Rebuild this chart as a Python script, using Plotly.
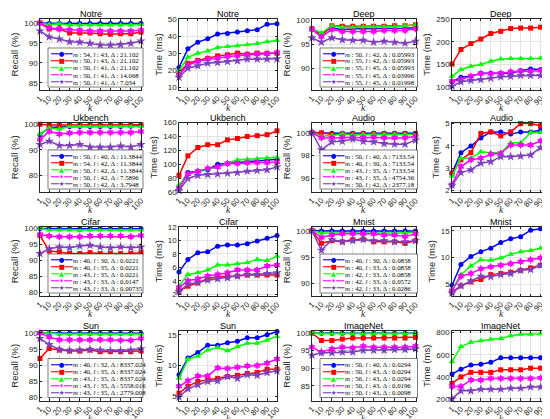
import plotly.graph_objects as go

W, H = 550, 419

k = [1, 10, 20, 30, 40, 50, 60, 70, 80, 90, 100]
k_text = [str(v) for v in k]

# each list of lists: blue, red, green, magenta, purple
notre_recall = [
    [100, 99.9, 99.9, 99.9, 99.9, 99.9, 99.9, 99.9, 99.9, 99.9, 99.9],
    [100, 98.5, 98.5, 97.5, 97.5, 97.5, 97.3, 97.2, 97.3, 97.3, 97.7],
    [100, 99.6, 99.8, 99.5, 99.5, 99.5, 99.5, 99.5, 99.5, 99.5, 99.6],
    [100, 98.8, 98.5, 98.3, 98.2, 98.0, 98.0, 98.0, 98.0, 98.0, 98.2],
    [98, 96.5, 96, 95.3, 95.2, 94.9, 94.5, 94.5, 94.6, 94.9, 95.5],
]
notre_time = [
    [21.7, 32.6, 36.5, 38.5, 41.2, 41.6, 42.4, 43.2, 43.8, 47, 47.3],
    [18.4, 24.2, 25.8, 27.1, 28.5, 29.1, 30.1, 29.5, 30.1, 30, 30],
    [19.7, 27.7, 30, 31.4, 33.4, 34, 34.4, 35, 35.7, 36.7, 37.5],
    [17.4, 23.2, 25.2, 26.6, 27.1, 28.1, 28.5, 29.1, 29.5, 29.7, 30.5],
    [16, 21.3, 22.7, 24.2, 24.6, 25.2, 25.6, 26.6, 26.6, 26.6, 26.8],
]
notre_m = [54, 50, 50, 50, 50]
notre_l = [43, 43, 41, 41, 41]
notre_d = ["21.102", "21.102", "21.102", "14.068", "7.034"]

deep_recall = [
    [98.2, 97.1, 98.4, 98, 98.2, 98.2, 98.2, 98.3, 98.3, 98.3, 98.4],
    [98.2, 96.8, 98.8, 98.7, 98.7, 98.7, 98.7, 98.7, 98.8, 98.8, 99],
    [98.2, 97.3, 98.8, 98.5, 98.5, 98.6, 98.6, 98.6, 98.6, 98.8, 98.9],
    [98, 96.5, 98, 97.6, 97.6, 97.6, 97.6, 97.8, 97.8, 97.8, 98.2],
    [96.3, 95.4, 96.3, 95.9, 95.8, 95.8, 95.4, 95.6, 95.4, 95.2, 95.6],
]
deep_time = [
    [112, 122, 124, 131, 131, 131, 131, 137, 140, 139, 140],
    [151, 183, 196, 206, 218, 223, 229, 230, 230, 232, 234],
    [124, 139, 146, 150, 157, 162, 163, 163, 163, 164, 168],
    [113, 117, 124, 130, 130, 131, 134, 135, 135, 137, 137],
    [102, 112, 115, 117, 120, 123, 124, 126, 126, 126, 128],
]
deep_m = [50, 55, 55, 55, 55]
deep_l = [42, 42, 45, 45, 45]
deep_d = ["0.05993", "0.05993", "0.05993", "0.03996", "0.01998"]

ukbench_recall = [
    [95.9, 98.7, 98.9, 99.1, 99.1, 99.1, 99.1, 99.1, 99.1, 99.2, 99.4],
    [100, 99.7, 99.7, 99.7, 99.7, 99.7, 99.7, 99.7, 99.7, 99.7, 99.8],
    [96.2, 98.5, 98.2, 99.1, 99.1, 99.1, 99.1, 99.1, 99.1, 99.1, 99.1],
    [94, 97.2, 96.2, 96.6, 96.8, 96.8, 96.8, 96.8, 96.8, 96.8, 97.2],
    [92.1, 93.4, 91.7, 91.7, 92.1, 91.1, 91.1, 91.1, 91.5, 91.1, 92.1],
]
ukbench_time = [
    [67, 88, 90, 92, 100, 101, 103, 104, 105, 106, 107],
    [84, 112, 124, 128, 128, 135, 137, 140, 141, 142.5, 148],
    [70, 85, 90, 93, 96, 102, 106, 107, 108, 109, 110],
    [65, 86, 90, 94, 96, 101, 101, 102, 102.5, 102.5, 103],
    [62, 79.5, 84, 85, 86, 87, 88, 90, 91, 92, 96],
]
ukbench_m = [50, 54, 50, 50, 50]
ukbench_l = [40, 42, 42, 42, 42]
ukbench_d = ["11.3844", "11.3844", "11.3844", "7.5896", "3.7948"]

audio_recall = [
    [100, 99.95, 99.95, 99.95, 99.95, 99.95, 99.95, 99.95, 99.95, 99.95, 99.95],
    [100, 100, 99.85, 99.9, 99.9, 99.9, 99.9, 99.9, 99.9, 99.9, 99.9],
    [100, 99.7, 99.75, 99.9, 99.8, 99.85, 99.85, 99.85, 99.85, 99.85, 99.85],
    [100, 99.55, 99.55, 99.6, 99.6, 99.55, 99.6, 99.55, 99.55, 99.55, 99.7],
    [100, 98.5, 99.2, 99.25, 99.45, 99.25, 99.2, 99.05, 99.0, 99.0, 99.35],
]
audio_time = [
    [2.78, 3.7, 4.0, 4.36, 4.63, 4.63, 4.53, 4.63, 4.63, 4.7, 5.04],
    [2.78, 3.38, 3.7, 4.56, 4.63, 4.45, 4.63, 5.0, 5.0, 4.9, 4.97],
    [2.64, 3.45, 3.45, 3.74, 3.7, 3.7, 4.14, 4.14, 4.6, 4.6, 4.6],
    [2.27, 3.08, 3.38, 3.45, 3.63, 3.67, 4.04, 4.04, 4.04, 4.22, 4.26],
    [2.24, 2.81, 2.93, 3.23, 3.3, 3.52, 3.52, 3.55, 3.6, 3.92, 4.11],
]
audio_m = [50, 40, 43, 43, 50]
audio_l = [40, 30, 35, 35, 42]
audio_d = ["7133.54", "7133.54", "7133.54", "4754.36", "2377.18"]

cifar_recall = [
    [100, 99.9, 99.9, 99.9, 99.9, 99.9, 99.9, 99.9, 99.9, 99.9, 99.9],
    [97.8, 92.9, 92.6, 92.1, 92.1, 92.4, 92.1, 92.1, 92.1, 92.1, 92.4],
    [100, 99.5, 99.5, 99.5, 99.3, 99.5, 99.5, 99.5, 99.5, 99.5, 99.5],
    [98.1, 97.6, 97.4, 97.4, 97.4, 97.6, 97.6, 97.6, 97.6, 97.4, 97.8],
    [92.1, 93.6, 94.2, 93.9, 94.5, 94.7, 94.2, 93.9, 94.2, 93.9, 94.2],
]
cifar_time = [
    [5.3, 7.17, 8.16, 8.3, 9.14, 9.3, 9.3, 9.5, 9.9, 10.3, 10.7],
    [2.5, 3.2, 3.7, 4.3, 4.6, 4.6, 4.7, 4.86, 4.86, 4.86, 4.86],
    [3.2, 4.95, 5.2, 5.6, 6.33, 6.33, 6.53, 6.7, 7.17, 7.0, 7.66],
    [3.0, 4.0, 4.3, 4.7, 4.95, 5.2, 5.6, 5.6, 5.6, 6.2, 6.33],
    [2.4, 3.5, 3.7, 4.1, 4.3, 4.45, 4.7, 4.95, 4.95, 5.1, 5.2],
]
cifar_m = [40, 40, 43, 43, 43]
cifar_l = [30, 35, 35, 33, 33]
cifar_d = ["0.0221", "0.0221", "0.0221", "0.0147", "0.00735"]

mnist_recall = [
    [100, 99.95, 99.95, 99.95, 99.95, 99.95, 99.95, 99.95, 99.95, 99.95, 99.95],
    [100, 97.6, 98.1, 97.9, 98.3, 98.4, 97.9, 97.9, 97.9, 97.6, 98.1],
    [100, 99.55, 99.55, 99.55, 99.55, 99.55, 99.55, 99.55, 99.55, 99.55, 99.7],
    [100, 98.7, 99.2, 99.4, 99.4, 99.4, 99.4, 99.2, 99.2, 98.9, 99.4],
    [100, 96.3, 98.3, 97.9, 98.1, 98.3, 98.1, 98.1, 97.9, 97.9, 98.1],
]
mnist_time = [
    [4.8, 8.7, 10.2, 11.1, 11.75, 12.8, 13.5, 13.9, 15.1, 15.4, 15.7],
    [3.5, 4.7, 5.45, 5.9, 6.8, 7.0, 7.25, 7.6, 8.05, 8.55, 9.0],
    [4.0, 6.8, 8.4, 9.6, 9.5, 9.9, 10.6, 11.1, 11.3, 11.75, 12.2],
    [3.8, 6.5, 7.0, 7.9, 8.25, 8.55, 8.85, 9.2, 9.6, 9.9, 10.3],
    [3.35, 4.7, 5.6, 6.5, 6.4, 6.8, 7.0, 7.6, 7.75, 8.55, 9.3],
]
mnist_m = [40, 40, 42, 42, 42]
mnist_l = [30, 33, 33, 33, 33]
mnist_d = ["0.0858", "0.0858", "0.0858", "0.0572", "0.0286"]

sun_recall = [
    [100, 99.9, 99.9, 99.9, 99.9, 99.9, 99.9, 99.9, 99.9, 99.9, 99.9],
    [92.1, 95.2, 94.7, 94.4, 94.4, 94.7, 94.2, 94.2, 94.2, 94.2, 94.4],
    [100, 100, 99.7, 99.7, 99.7, 99.7, 99.7, 99.7, 99.7, 99.7, 99.7],
    [100, 98.7, 97.9, 97.9, 97.9, 97.9, 97.9, 97.9, 97.7, 97.7, 98.3],
    [98.3, 96.4, 94.9, 94.6, 94.7, 94.9, 94.7, 94.6, 94.6, 94.7, 95.1],
]
sun_time = [
    [8.5, 11.2, 12.1, 13.3, 13.3, 13.7, 13.95, 14.5, 14.5, 15.0, 15.5],
    [5.5, 6.6, 7.4, 7.6, 7.9, 8.2, 8.4, 8.7, 8.85, 9.4, 9.4],
    [7.9, 11.0, 11.5, 12.5, 12.9, 12.4, 13.05, 13.6, 13.6, 14.1, 14.7],
    [6.6, 7.5, 8.3, 8.3, 9.6, 9.5, 9.7, 9.9, 10.0, 10.4, 11.05],
    [4.85, 6.2, 6.85, 7.4, 7.5, 8.2, 7.9, 8.5, 8.4, 8.85, 9.1],
]
sun_m = [40, 40, 43, 43, 43]
sun_l = [32, 35, 35, 35, 35]
sun_d = ["8337.024", "8337.024", "8337.024", "5558.016", "2779.008"]

imagenet_recall = [
    [100, 99.95, 99.95, 99.95, 99.95, 99.95, 99.95, 99.95, 99.95, 99.95, 99.95],
    [100, 97.9, 97.9, 98.3, 98.6, 98.6, 98.6, 98.6, 98.6, 98.6, 98.8],
    [100, 99.9, 99.9, 99.9, 99.9, 99.9, 99.9, 99.9, 99.9, 99.9, 99.9],
    [96, 94.6, 95.5, 96, 95.8, 96.25, 96, 96, 96, 96, 96.25],
    [93.7, 94.4, 94.4, 94.6, 94.6, 95.1, 95.1, 95.1, 95.3, 95.3, 95.5],
]
imagenet_time = [
    [425, 469, 507, 513, 531, 572, 572, 572, 572, 572, 601],
    [340, 399, 440, 440, 440, 463, 463, 463, 478, 478, 478],
    [537, 674, 712, 727, 741, 747, 771, 785, 785, 791, 800],
    [311, 311, 370, 370, 384, 384, 384, 384, 384, 390, 396],
    [200, 273, 273, 288, 288, 288, 297, 297, 308, 308, 308],
]
imagenet_m = [50, 50, 56, 50, 50]
imagenet_l = [40, 43, 43, 43, 43]
imagenet_d = ["0.0294", "0.0294", "0.0294", "0.0196", "0.0098"]

colors = ["#0000ff", "#ff0000", "#00ff00", "#ff00ff", "#7f3fbf"]
symbols = ["circle", "square", "triangle-up", "hexagram", "star"]
msizes = [5, 5, 6, 6, 7]
glyphs = ["\u25CF", "\u25A0", "\u25B2", "\u2736", "\u2605"]

# name, recall, time, m, l, delta, recall range/ticks, time range/ticks
panels = [
    ("Notre", notre_recall, notre_time, notre_m, notre_l, notre_d,
     [83.2, 101], [85, 90, 95, 100], [8.6, 50], [10, 20, 30, 40, 50]),
    ("Deep", deep_recall, deep_time, deep_m, deep_l, deep_d,
     [85.5, 100.2], [90, 95, 100], [94, 250], [100, 150, 200, 250]),
    ("Ukbench", ukbench_recall, ukbench_time, ukbench_m, ukbench_l, ukbench_d,
     [73.5, 100.7], [80, 90, 100], [60, 160], [60, 80, 100, 120, 140, 160]),
    ("Audio", audio_recall, audio_time, audio_m, audio_l, audio_d,
     [94.8, 100.9], [96, 98, 100], [1.94, 5.05], [2, 3, 4, 5]),
    ("Cifar", cifar_recall, cifar_time, cifar_m, cifar_l, cifar_d,
     [78.8, 100.6], [80, 85, 90, 95, 100], [1.75, 12.05], [2, 4, 6, 8, 10, 12]),
    ("Mnist", mnist_recall, mnist_time, mnist_m, mnist_l, mnist_d,
     [87.6, 100.8], [90, 95, 100], [2.8, 15.8], [5, 10, 15]),
    ("Sun", sun_recall, sun_time, sun_m, sun_l, sun_d,
     [79.1, 100.6], [80, 85, 90, 95, 100], [4.3, 15.6], [5, 10, 15]),
    ("ImageNet", imagenet_recall, imagenet_time, imagenet_m, imagenet_l, imagenet_d,
     [80.8, 100.6], [85, 90, 95, 100], [185, 815], [200, 400, 600, 800]),
]

# plot-area boxes in pixels
cols_px = [(32, 133), (171, 269), (304, 407.5), (444, 542.5)]
rows_px = [(11, 82), (114.5, 184), (218.5, 288), (323, 392.5)]

SANS = "Liberation Sans"
SERIF = "Liberation Serif"

fig = go.Figure()
layout = {}
annotations = []
shapes = []


def px_x(v):
    return v / W


def px_y(v):
    return 1 - v / H


def add_axes(n, col, row, yrange, yticks, ytitle):
    sx = "" if n == 1 else str(n)
    x0, x1 = cols_px[col]
    t, b = rows_px[row]
    common = dict(showline=True, linecolor="#262626", linewidth=0.6, mirror="ticks",
                  ticks="inside", ticklen=2.5, tickcolor="#262626", tickwidth=0.6,
                  showgrid=True, gridcolor="#e3e3e3", gridwidth=0.6, zeroline=False,
                  automargin=False,
                  tickfont=dict(family=SANS, size=8, color="#262626"))
    layout["xaxis" + sx] = dict(common, domain=[px_x(x0), px_x(x1)], anchor="y" + sx,
                                range=[1, 100], tickmode="array", tickvals=k,
                                ticktext=k_text, tickangle=-45)
    layout["yaxis" + sx] = dict(common, domain=[px_y(b), px_y(t)], anchor="x" + sx,
                                range=yrange, tickmode="array", tickvals=yticks,
                                title=dict(text=ytitle, standoff=3,
                                           font=dict(family=SANS, size=9.5, color="#262626")))
    # x label "k" placed just under the rotated tick labels
    annotations.append(dict(x=px_x((x0 + x1) / 2), y=px_y(b + 18), xref="paper", yref="paper",
                            xanchor="center", yanchor="middle", showarrow=False,
                            text="<i>k</i>", borderpad=0,
                            font=dict(family=SERIF, size=9.5, color="#262626")))
    return "x" + sx, "y" + sx


for p, (name, rec, tim, ms, ls, ds, rr, rt, tr, tt) in enumerate(panels):
    row = p // 2
    cr = 2 * (p % 2)
    ct = cr + 1
    nr = 4 * row + cr + 1
    nt = 4 * row + ct + 1
    xr, yr = add_axes(nr, cr, row, rr, rt, "Recall (%)")
    xt, yt = add_axes(nt, ct, row, tr, tt, "Time (ms)")
    for i in range(5):
        for xa, ya, vals in ((xr, yr, rec[i]), (xt, yt, tim[i])):
            fig.add_trace(go.Scatter(
                x=k, y=vals, xaxis=xa, yaxis=ya, mode="lines+markers",
                line=dict(color=colors[i], width=1.5),
                marker=dict(symbol=symbols[i], size=msizes[i], color=colors[i]),
                cliponaxis=False, showlegend=False))
    t, b = rows_px[row]
    for c in (cr, ct):
        x0, x1 = cols_px[c]
        annotations.append(dict(x=px_x((x0 + x1) / 2), y=px_y(t), xref="paper", yref="paper",
                                xanchor="center", yanchor="bottom", yshift=-1, showarrow=False,
                                text=name, borderpad=0,
                                font=dict(family=SANS, size=9, color="#000")))
    # legend box inside the recall axes
    x0, x1 = cols_px[cr]
    bl, br = x0 + 8, x1 + 2
    bb = b - 3
    bt = bb - 39
    shapes.append(dict(type="rect", xref="paper", yref="paper",
                       x0=px_x(bl), x1=px_x(br), y0=px_y(bb), y1=px_y(bt),
                       fillcolor="white", line=dict(color="#262626", width=0.6), layer="above"))
    for i in range(5):
        yc = bt + 2.5 + 7 * i + 3.5
        annotations.append(dict(x=px_x(bl + 1), y=px_y(yc), xref="paper", yref="paper",
                                xanchor="left", yanchor="middle", showarrow=False,
                                text="\u2501\u2501" + glyphs[i] + "\u2501\u2501", borderpad=0,
                                font=dict(family="DejaVu Sans", size=6.5, color=colors[i])))
        label = f"<i>m</i> : {ms[i]}, <i>l</i> : {ls[i]}, \u0394 : {ds[i]}"
        annotations.append(dict(x=px_x(bl + 24), y=px_y(yc), xref="paper", yref="paper",
                                xanchor="left", yanchor="middle", showarrow=False,
                                text=label, borderpad=0,
                                font=dict(family=SERIF, size=6.8, color="#000")))

fig.update_layout(layout)
fig.update_layout(width=W, height=H, margin=dict(l=0, r=0, t=0, b=0),
                  paper_bgcolor="white", plot_bgcolor="white", showlegend=False,
                  annotations=annotations, shapes=shapes)

fig.write_html("out.html")
